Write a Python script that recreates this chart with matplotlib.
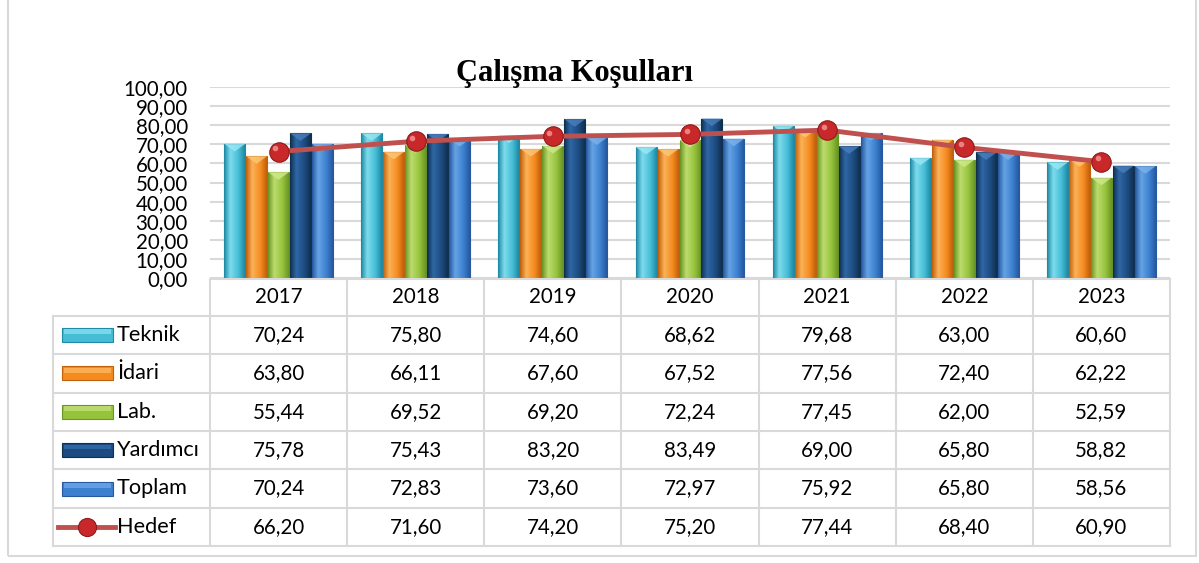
import numpy as np
import matplotlib
matplotlib.use('Agg')
import matplotlib.pyplot as plt
import matplotlib.transforms as mtransforms
from matplotlib.colors import LinearSegmentedColormap
from matplotlib.patches import Rectangle, Polygon
from matplotlib.lines import Line2D

plt.rcParams['font.family'] = ['Lato', 'DejaVu Sans']

years = ['2017', '2018', '2019', '2020', '2021', '2022', '2023']
teknik = [70.24, 75.80, 74.60, 68.62, 79.68, 63.00, 60.60]
idari = [63.80, 66.11, 67.60, 67.52, 77.56, 72.40, 62.22]
lab = [55.44, 69.52, 69.20, 72.24, 77.45, 62.00, 52.59]
yardimci = [75.78, 75.43, 83.20, 83.49, 69.00, 65.80, 58.82]
toplam = [70.24, 72.83, 73.60, 72.97, 75.92, 65.80, 58.56]
hedef = [66.20, 71.60, 74.20, 75.20, 77.44, 68.40, 60.90]

series_names = ['Teknik', 'İdari', 'Lab.', 'Yardımcı', 'Toplam']
series_vals = [teknik, idari, lab, yardimci, toplam]
# dark edge, highlight, middle, bevel
series_cols = [
    ('#1f8aa5', '#7ddcec', '#45bdd6', '#9be8f4'),
    ('#c2600c', '#fbb257', '#f58b1f', '#fcc878'),
    ('#6a9626', '#bddc6e', '#96c33c', '#d0ea8c'),
    ('#10304f', '#2f67a6', '#1d4b80', '#4a7fbd'),
    ('#2759a0', '#65a3e4', '#3c80cf', '#7cb2ea'),
]

W, H = 1199, 563
fig = plt.figure(figsize=(W / 100, H / 100), dpi=100)

def fx(px):
    return px / W

def fy(py):
    return 1 - py / H

ax = fig.add_axes([fx(210), fy(278), fx(1170) - fx(210), fy(87) - fy(278)])
ax.set_xlim(0, 7)
ax.set_ylim(0, 100)
ax.set_xticks([])
ax.set_yticks(range(0, 101, 10))
ax.set_yticklabels([f'{t},00' for t in range(0, 101, 10)])
ax.tick_params(axis='y', length=0, pad=16, labelsize=14.8)
for s in ax.spines.values():
    s.set_visible(False)
ax.yaxis.grid(True, color='#d9d9d9', lw=1.5)
ax.set_axisbelow(True)

bw = 0.153
step = 0.16
centers = np.arange(len(years)) + 0.5
for k, (vals, cols) in enumerate(zip(series_vals, series_cols)):
    cmap = LinearSegmentedColormap.from_list(
        'g', [(0, cols[0]), (0.3, cols[1]), (0.7, cols[2]), (1, cols[0])])
    grad = np.linspace(0, 1, 64).reshape(1, -1)
    for i, v in enumerate(vals):
        x0 = centers[i] + (k - 2) * step - bw / 2
        rect = Rectangle((x0, 0), bw, v, facecolor='none',
                         edgecolor=cols[0], lw=0.8, zorder=3)
        ax.add_patch(rect)
        im = ax.imshow(grad, cmap=cmap, aspect='auto', extent=(x0, x0 + bw, 0, v),
                       zorder=2, interpolation='bilinear')
        im.set_clip_path(rect)
        tri = Polygon([(x0, v), (x0 + bw, v), (x0 + bw / 2, v - 4)],
                      closed=True, facecolor=cols[3], edgecolor='none',
                      alpha=0.8, zorder=3)
        ax.add_patch(tri)

ax.plot(centers, hedef, color='#c0504d', lw=3.5, zorder=5, solid_capstyle='round')
ax.plot(centers, hedef, 'o', ms=14, mfc='#c8282a', mec='#8f1a1a', mew=0.8, zorder=6)
shine = ax.transData + mtransforms.ScaledTranslation(-2.5 / 72, 2.5 / 72, fig.dpi_scale_trans)
ax.plot(centers, hedef, 'o', ms=4, mfc='#f39a9a', mec='none', alpha=0.8,
        zorder=7, transform=shine)
ax.set_xlim(0, 7)
ax.set_ylim(0, 100)

fig.text(fx(575), fy(73), 'Çalışma Koşulları', ha='center', va='center',
         fontsize=22, fontweight='bold', family=['Liberation Serif'])

# data table
tr = mtransforms.blended_transform_factory(ax.transData, fig.transFigure)
grid_c = '#d9d9d9'
head_top = 279
rows = [315.7, 354, 392.5, 431, 469.3, 507.7, 545.7]
left_x = (53 - 210) / 137.14

fig.add_artist(Line2D([0, 7], [fy(head_top)] * 2, transform=tr, color=grid_c, lw=1.5))
for yb in rows:
    fig.add_artist(Line2D([left_x, 7], [fy(yb)] * 2, transform=tr, color=grid_c, lw=1.5))
for c in range(8):
    fig.add_artist(Line2D([c, c], [fy(head_top), fy(rows[-1])], transform=tr,
                          color=grid_c, lw=1.5))
fig.add_artist(Line2D([left_x, left_x], [fy(rows[0]), fy(rows[-1])], transform=tr,
                      color=grid_c, lw=1.5))

fs = 14.8
for i, yr in enumerate(years):
    fig.text(centers[i], fy((head_top + rows[0]) / 2), yr, transform=tr,
             ha='center', va='center', fontsize=fs)

all_rows = series_vals + [hedef]
row_names = series_names + ['Hedef']
for r, (name, vals) in enumerate(zip(row_names, all_rows)):
    yc = fy((rows[r] + rows[r + 1]) / 2)
    for i, v in enumerate(vals):
        fig.text(centers[i], yc, f'{v:.2f}'.replace('.', ','), transform=tr,
                 ha='center', va='center', fontsize=fs)
    fig.text(fx(117), yc, name, ha='left', va='center', fontsize=15.6)
    if r < len(series_names):
        cols = series_cols[r]
        kh = 14 / H
        fig.add_artist(Rectangle((fx(62), yc - kh / 2), fx(113) - fx(62), kh,
                                 transform=fig.transFigure, facecolor=cols[2],
                                 edgecolor=cols[0], lw=0.8))
        fig.add_artist(Rectangle((fx(64), yc + kh * 0.05), fx(111) - fx(64), kh * 0.35,
                                 transform=fig.transFigure, facecolor=cols[1],
                                 edgecolor='none', alpha=0.9))
    else:
        fig.add_artist(Line2D([fx(58), fx(115)], [yc, yc], transform=fig.transFigure,
                              color='#c0504d', lw=3.5))
        fig.add_artist(Line2D([fx(87)], [yc], transform=fig.transFigure, marker='o',
                              ms=13, mfc='#c8282a', mec='#8f1a1a', mew=0.8))

# outer chart border
fig.add_artist(Rectangle((fx(8), fy(556)), fx(1196) - fx(8), fy(-5) - fy(556),
                         transform=fig.transFigure, facecolor='none',
                         edgecolor=grid_c, lw=1.5))

fig.savefig('out.png', dpi=100)
